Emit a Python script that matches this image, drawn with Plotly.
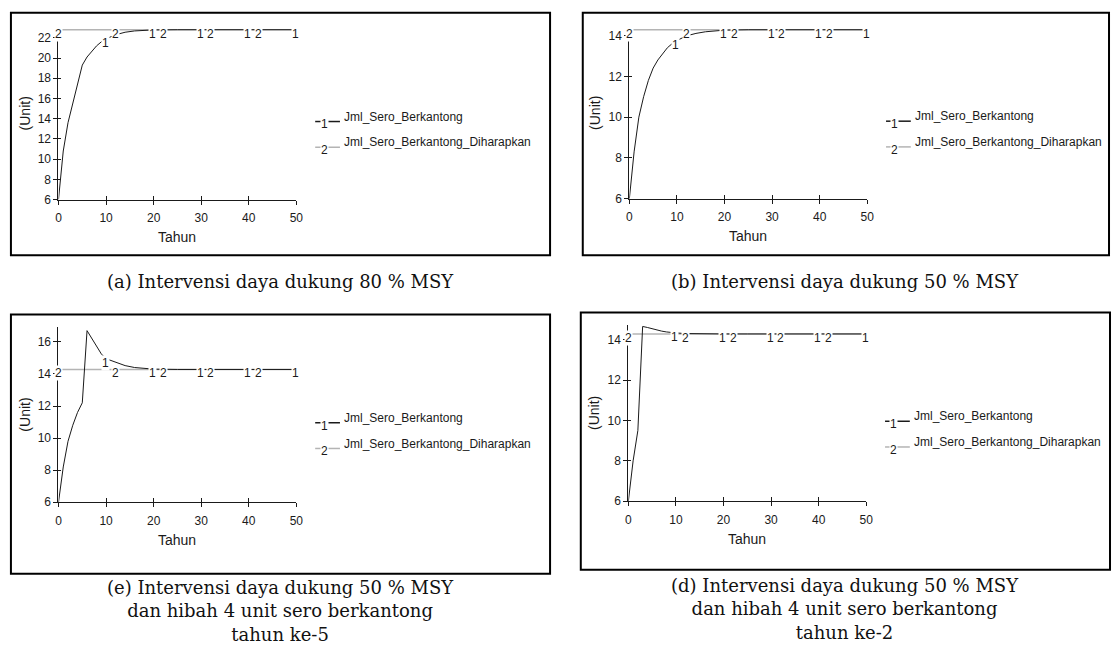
import numpy as np
import plotly.graph_objects as go

W, H = 1118, 650

# ---------------- data ----------------
years = [0, 1, 2, 3, 4, 5, 6, 7, 8, 9, 10, 12, 14, 16, 18, 20, 25, 30, 35, 40, 45, 50]
jml_a = [6.0, 10.8, 13.6, 15.6, 17.6, 19.3, 20.1, 20.7, 21.2, 21.6, 21.9, 22.3, 22.55, 22.68,
         22.75, 22.78, 22.8, 22.8, 22.8, 22.8, 22.8, 22.8]
jml_b = [6.0, 8.3, 10.0, 11.0, 11.8, 12.4, 12.8, 13.1, 13.4, 13.6, 13.75, 13.98, 14.1, 14.18,
         14.23, 14.26, 14.28, 14.28, 14.28, 14.28, 14.28, 14.28]
jml_e = [6.0, 8.2, 9.8, 10.8, 11.6, 12.2, 16.7, 16.2, 15.75, 15.25, 14.95, 14.72, 14.52, 14.4,
         14.33, 14.3, 14.28, 14.28, 14.28, 14.28, 14.28, 14.28]
jml_d = [6.0, 8.0, 9.5, 14.65, 14.6, 14.53, 14.47, 14.42, 14.38, 14.35, 14.33, 14.3, 14.29, 14.28,
         14.28, 14.28, 14.28, 14.28, 14.28, 14.28, 14.28, 14.28]

harap_years = [0, 50]
harap_a = [22.8, 22.8]
harap_b = [14.28, 14.28]
harap_e = [14.28, 14.28]
harap_d = [14.28, 14.28]

x_ticks = [0, 10, 20, 30, 40, 50]
y_ticks_a = [6, 8, 10, 12, 14, 16, 18, 20, 22]
y_ticks_b = [6, 8, 10, 12, 14]
y_ticks_e = [6, 8, 10, 12, 14, 16]
y_ticks_d = [6, 8, 10, 12, 14]

label1_years = [10, 20, 30, 40, 50]
label2_years = [0, 12, 22, 32, 42]

series_names = ["Jml_Sero_Berkantong", "Jml_Sero_Berkantong_Diharapkan"]
series_digits = ["1", "2"]
x_title = "Tahun"
y_title = "(Unit)"

captions = [
    "(a) Intervensi daya dukung 80 % MSY",
    "(b) Intervensi daya dukung 50 % MSY",
    "(e) Intervensi daya dukung 50 % MSY<br>dan hibah 4 unit sero berkantong<br>tahun ke-5",
    "(d) Intervensi daya dukung 50 % MSY<br>dan hibah 4 unit sero berkantong<br>tahun ke-2",
]

# ---------------- layout (pixels) ----------------
panels = [
    dict(jml=jml_a, harap=harap_a, yticks=y_ticks_a, ytop=23.0,
         x0=56, x1=296, yb=201.7, yt=28, box=(8, 13, 552, 258), cap_x=280, cap_y=285),
    dict(jml=jml_b, harap=harap_b, yticks=y_ticks_b, ytop=14.38,
         x0=632, x1=872, yb=201, yt=28, box=(585, 13, 1116, 258), cap_x=850, cap_y=285),
    dict(jml=jml_e, harap=harap_e, yticks=y_ticks_e, ytop=16.9,
         x0=56, x1=296, yb=507.7, yt=331, box=(8, 318, 552, 580), cap_x=280, cap_y=594),
    dict(jml=jml_d, harap=harap_d, yticks=y_ticks_d, ytop=14.7,
         x0=631, x1=871, yb=506.7, yt=329, box=(583, 316, 1117, 576), cap_x=850, cap_y=592),
]

SANS = "Liberation Sans, Arial, sans-serif"
SERIF = "DejaVu Serif, serif"
BLACK = "#1a1a1a"
GRAY = "#b4b4b4"
CAP_SIZE = 18
TICK_SIZE = 12
TITLE_SIZE = 14
LEG_SIZE = 12


def fx(px):
    return px / W


def fy(py):
    return 1 - py / H


fig = go.Figure()
layout = dict(
    width=W, height=H, autosize=False,
    margin=dict(l=0, r=0, t=0, b=0),
    paper_bgcolor="white", plot_bgcolor="white",
    showlegend=False,
    font=dict(family=SANS, color=BLACK),
)
annotations = []
shapes = []

for i, p in enumerate(panels):
    n = i + 1
    m = i + 5
    xa, ya = f"x{n}", f"y{n}"
    xo, yo = f"x{m}", f"y{m}"
    xdom = [fx(p["x0"]), fx(p["x1"])]
    ydom = [fy(p["yb"]), fy(p["yt"])]
    yrange = [6, p["ytop"]]

    common = dict(showgrid=False, zeroline=False, tickcolor=BLACK, tickwidth=1)
    layout[f"xaxis{n}"] = dict(
        domain=xdom, anchor=ya, range=[0, 50], tickvals=x_ticks, ticktext=[str(v) for v in x_ticks],
        showline=True, linecolor=BLACK, linewidth=1.2, ticks="outside", ticklen=4, ticklabelstandoff=3,
        tickfont=dict(family=SANS, size=TICK_SIZE, color=BLACK), **common)
    layout[f"yaxis{n}"] = dict(
        domain=ydom, anchor=xa, range=yrange, tickvals=p["yticks"],
        ticktext=[str(v) for v in p["yticks"]],
        showline=True, linecolor=BLACK, linewidth=1.2, ticks="outside", ticklen=4, ticklabelstandoff=0,
        tickfont=dict(family=SANS, size=TICK_SIZE, color=BLACK), **common)
    # overlay axes to draw the inner half of crossing ticks
    layout[f"xaxis{m}"] = dict(
        overlaying=xa, anchor=ya, range=[0, 50], tickvals=x_ticks, showticklabels=False,
        showline=False, ticks="inside", ticklen=4, **common)
    layout[f"yaxis{m}"] = dict(
        overlaying=ya, anchor=xa, range=yrange, tickvals=p["yticks"], showticklabels=False,
        showline=False, ticks="inside", ticklen=3, **common)

    fig.add_trace(go.Scatter(x=[None], y=[None], xaxis=xo, yaxis=yo, mode="lines",
                             hoverinfo="skip", showlegend=False))
    fig.add_trace(go.Scatter(x=harap_years, y=p["harap"], xaxis=xa, yaxis=ya, mode="lines",
                             line=dict(color=GRAY, width=1.6), name=series_names[1],
                             cliponaxis=False))
    fig.add_trace(go.Scatter(x=years, y=p["jml"], xaxis=xa, yaxis=ya, mode="lines",
                             line=dict(color=BLACK, width=1), name=series_names[0],
                             cliponaxis=False))

    # numbered line labels
    for t in label1_years:
        annotations.append(dict(x=t, y=float(np.interp(t, years, p["jml"])), xref=xa, yref=ya,
                                text="1", showarrow=False, yshift=-4, xshift=-1,
                                xanchor="center", yanchor="middle",
                                bgcolor="white", borderpad=0,
                                font=dict(family=SANS, size=TICK_SIZE, color=BLACK)))
    for t in label2_years:
        annotations.append(dict(x=t, y=float(np.interp(t, harap_years, p["harap"])), xref=xa, yref=ya,
                                text="2", showarrow=False, yshift=-4,
                                xanchor="center", yanchor="middle",
                                bgcolor="white", borderpad=0,
                                font=dict(family=SANS, size=TICK_SIZE, color=BLACK)))

    # axis titles
    annotations.append(dict(x=fx((p["x0"] + p["x1"]) / 2), y=fy(p["yb"] + 38), xref="paper", yref="paper",
                            text=x_title, showarrow=False, xanchor="center", yanchor="middle",
                            font=dict(family=SANS, size=TITLE_SIZE, color=BLACK)))
    annotations.append(dict(x=fx(p["x0"] - 34), y=fy((p["yb"] + p["yt"]) / 2), xref="paper", yref="paper",
                            text=y_title, textangle=-90, showarrow=False, xanchor="center", yanchor="middle",
                            font=dict(family=SANS, size=TITLE_SIZE, color=BLACK)))

    # legend
    lx = p["x1"] + 19
    ly0 = (p["yb"] + p["yt"]) / 2 + 8
    for k, col in enumerate([BLACK, GRAY]):
        ly = ly0 + k * 26
        shapes.append(dict(type="line", xref="paper", yref="paper", x0=fx(lx), x1=fx(lx + 25),
                           y0=fy(ly), y1=fy(ly), line=dict(color=col, width=1.5)))
        annotations.append(dict(x=fx(lx + 9), y=fy(ly + 3), xref="paper", yref="paper", text=series_digits[k],
                                showarrow=False, bgcolor="white", borderpad=0,
                                xanchor="center", yanchor="middle",
                                font=dict(family=SANS, size=LEG_SIZE, color=BLACK)))
        annotations.append(dict(x=fx(lx + 27), y=fy(ly - 5), xref="paper", yref="paper", text=series_names[k],
                                xanchor="left", yanchor="middle", showarrow=False,
                                font=dict(family=SANS, size=LEG_SIZE, color=BLACK)))

    # frame box
    bx0, by0, bx1, by1 = p["box"]
    shapes.append(dict(type="rect", xref="paper", yref="paper", x0=fx(bx0), x1=fx(bx1),
                       y0=fy(by1), y1=fy(by0), line=dict(color="black", width=2), layer="below"))

    # caption
    annotations.append(dict(x=fx(p["cap_x"]), y=fy(p["cap_y"] - CAP_SIZE * 0.65 - 1), xref="paper", yref="paper",
                            text=captions[i], showarrow=False, xanchor="center", yanchor="top", align="center",
                            font=dict(family=SERIF, size=CAP_SIZE, color="#111")))

layout["annotations"] = annotations
layout["shapes"] = shapes
fig.update_layout(**layout)

fig.write_html("out.html", config={"displayModeBar": False},
               post_script="document.body.style.margin='0';")
